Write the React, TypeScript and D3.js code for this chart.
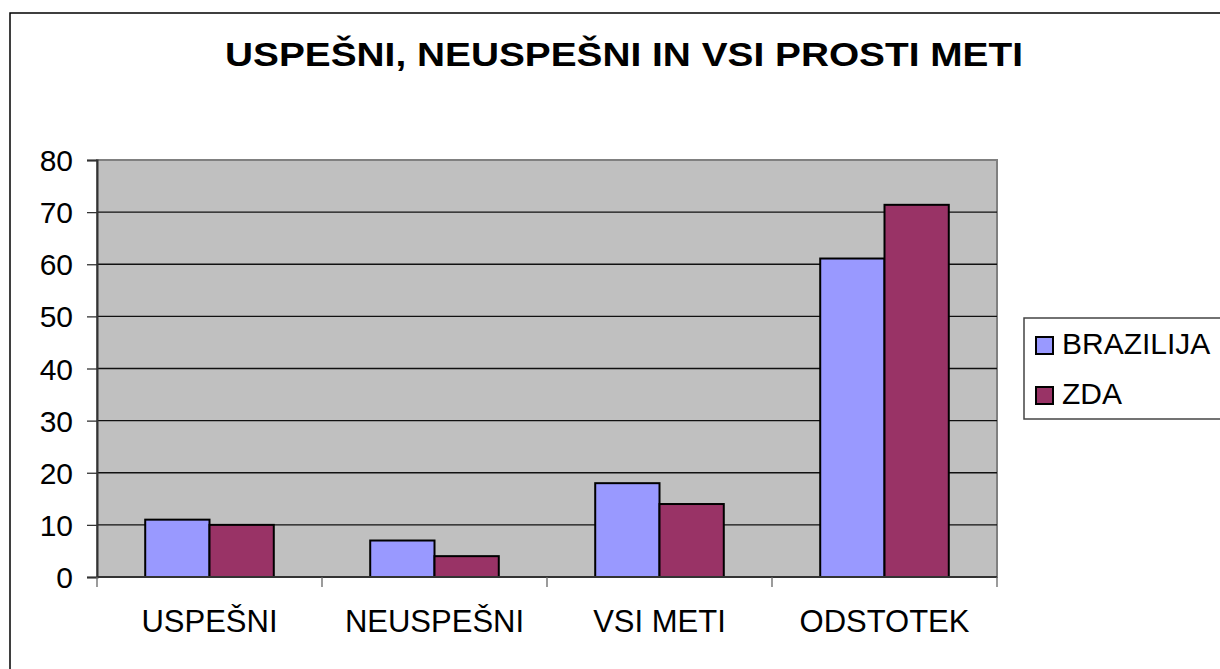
import React, { useEffect, useRef } from "react";
import * as d3 from "d3";

const categories = ["USPEŠNI", "NEUSPEŠNI", "VSI METI", "ODSTOTEK"];
const series = ["BRAZILIJA", "ZDA"];
const brazilija = [11, 7, 18, 61.1];
const zda = [10, 4, 14, 71.4];
const yTicks = [0, 10, 20, 30, 40, 50, 60, 70, 80];
const colors = ["#9999FF", "#993366"];

export default function App() {
  const ref = useRef<SVGSVGElement>(null);

  useEffect(() => {
    const svg = d3.select(ref.current);
    svg.selectAll("*").remove();
    const font = "'Liberation Sans', Arial, sans-serif";
    const left = 97, right = 997, top = 160, bottom = 577;

    // outer chart frame
    svg.append("rect")
      .attr("x", 10).attr("y", 13).attr("width", 1230).attr("height", 680)
      .attr("fill", "#fff").attr("stroke", "#000").attr("stroke-width", 1.5);

    // title is a bit wider than its height suggests, so stretch it
    svg.append("text")
      .attr("x", 225).attr("y", 66)
      .attr("textLength", 798).attr("lengthAdjust", "spacingAndGlyphs")
      .attr("font-family", font).attr("font-weight", "bold").attr("font-size", 33)
      .text("USPEŠNI, NEUSPEŠNI IN VSI PROSTI METI");

    const x0 = d3.scaleBand().domain(categories).range([left, right]).padding(0);
    const x1 = d3.scaleBand().domain(series).range([0, x0.bandwidth()])
      .paddingInner(0).paddingOuter(0.75);
    const y = d3.scaleLinear().domain([0, 80]).range([bottom, top]);

    // plot background
    svg.append("rect")
      .attr("x", left).attr("y", top).attr("width", right - left).attr("height", bottom - top)
      .attr("fill", "#C0C0C0").attr("stroke", "#808080").attr("stroke-width", 2);

    // gridlines
    svg.append("g").selectAll("line").data(yTicks.filter(t => t > 0 && t < 80)).enter()
      .append("line")
      .attr("x1", left).attr("x2", right)
      .attr("y1", d => y(d)).attr("y2", d => y(d))
      .attr("stroke", "#111").attr("stroke-width", 1.3);

    // bars
    const values = [brazilija, zda];
    series.forEach((s, si) => {
      svg.append("g").selectAll("rect").data(categories).enter()
        .append("rect")
        .attr("x", c => (x0(c) as number) + (x1(s) as number))
        .attr("width", x1.bandwidth())
        .attr("y", (c, i) => y(values[si][i]))
        .attr("height", (c, i) => bottom - y(values[si][i]))
        .attr("fill", colors[si])
        .attr("stroke", "#000").attr("stroke-width", 2);
    });

    // y axis
    const yAxis = svg.append("g").attr("transform", `translate(${left},0)`)
      .call(d3.axisLeft(y).tickValues(yTicks).tickSize(10).tickPadding(14));
    yAxis.select(".domain").attr("stroke", "#333").attr("stroke-width", 2);
    yAxis.selectAll(".tick line").attr("stroke", "#333").attr("stroke-width", 1.3);
    yAxis.selectAll("text").attr("font-family", font).attr("font-size", 30).attr("fill", "#000")
      .attr("dy", "0.35em");

    // x axis
    const xAxis = svg.append("g").attr("transform", `translate(0,${bottom})`);
    xAxis.append("line").attr("x1", left).attr("x2", right).attr("y1", 0).attr("y2", 0)
      .attr("stroke", "#333").attr("stroke-width", 2);
    const bounds = categories.map(c => x0(c) as number).concat([right]);
    xAxis.selectAll("line.tk").data(bounds).enter().append("line")
      .attr("class", "tk")
      .attr("x1", d => d).attr("x2", d => d).attr("y1", 0).attr("y2", 10)
      .attr("stroke", "#666").attr("stroke-width", 1.3);
    xAxis.selectAll("text").data(categories).enter().append("text")
      .attr("x", c => (x0(c) as number) + x0.bandwidth() / 2)
      .attr("y", 55)
      .attr("text-anchor", "middle")
      .attr("font-family", font).attr("font-size", 31)
      .text(c => c);

    // legend
    const lg = svg.append("g");
    lg.append("rect").attr("x", 1024).attr("y", 318).attr("width", 230).attr("height", 101)
      .attr("fill", "#fff").attr("stroke", "#444").attr("stroke-width", 1.5);
    series.forEach((s, i) => {
      const yy = 337 + i * 50;
      lg.append("rect").attr("x", 1036).attr("y", yy).attr("width", 17).attr("height", 17)
        .attr("fill", colors[i]).attr("stroke", "#000").attr("stroke-width", 2);
      lg.append("text").attr("x", 1062).attr("y", yy + 17)
        .attr("font-family", font).attr("font-size", 30)
        .text(s);
    });
  }, []);

  return (
    <svg ref={ref} width={1220} height={669}
      style={{ position: "absolute", left: 0, top: 0, display: "block", background: "#fff" }} />
  );
}
